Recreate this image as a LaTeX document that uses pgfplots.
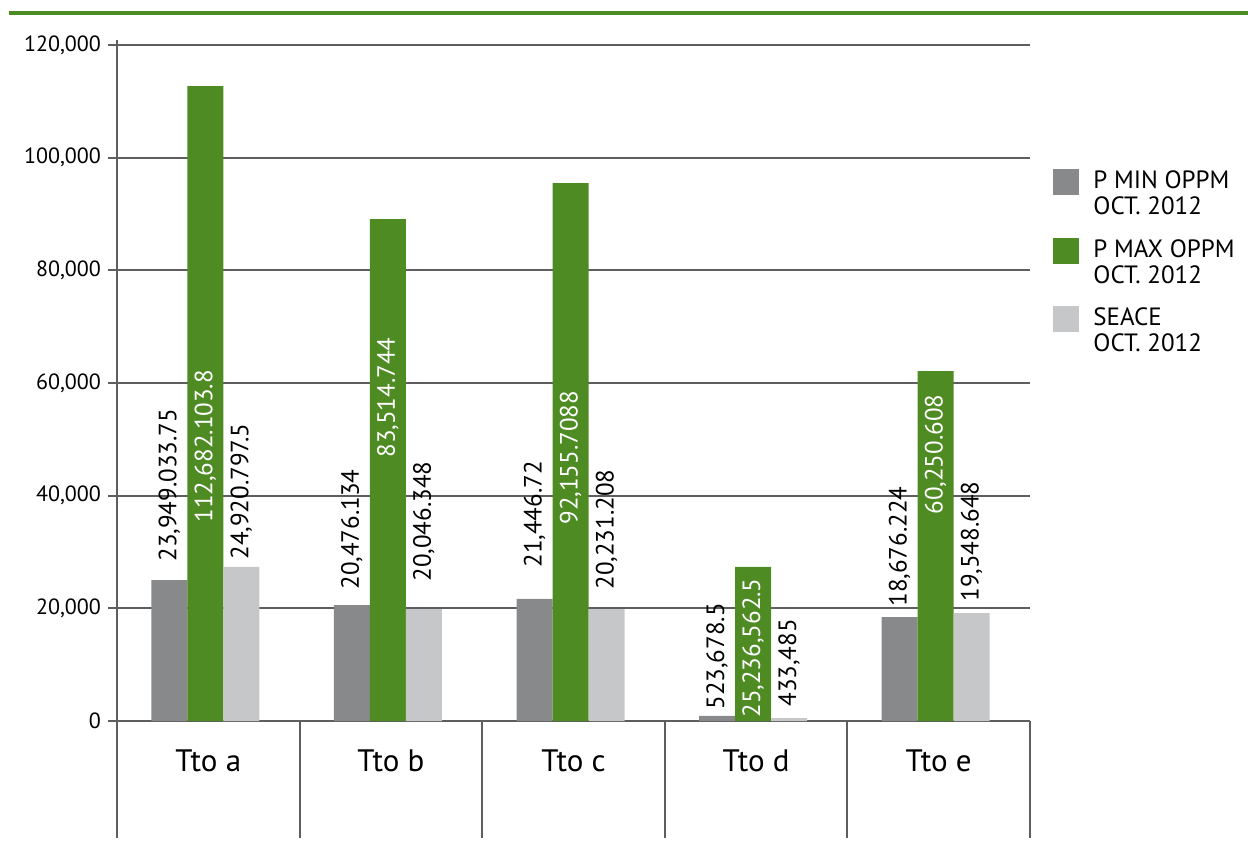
\documentclass[border=0pt]{standalone}
\usepackage{fontspec}
\setmainfont{PT Sans}
\usepackage{pgfplots}
\pgfplotsset{compat=1.18}
\definecolor{cgreen}{HTML}{4E8C23}
\definecolor{cgray}{HTML}{88898B}
\definecolor{clight}{HTML}{C6C7C9}
\definecolor{cline}{HTML}{5E5E5E}
\begin{document}
\begin{tikzpicture}
\path[use as bounding box] (0,0) rectangle (624pt,424pt);
\draw[cgreen, line width=2pt] (4.5pt,417.5pt) -- (624pt,417.5pt);
\begin{axis}[
  at={(58.5pt,63.5pt)}, anchor=south west, scale only axis,
  width=456.5pt, height=338pt,
  xmin=-0.5, xmax=4.5, ymin=0, ymax=120000,
  axis lines=left, axis line style={draw=none,-},
  clip=false,
  ybar=0pt, bar width=18pt,
  ytick={0,20000,40000,60000,80000,100000,120000},
  scaled y ticks=false,
  yticklabel style={/pgf/number format/fixed, /pgf/number format/1000 sep={,}, /pgf/number format/assume math mode=true, font=\fontsize{11}{13}\selectfont, text=black},
  ymajorgrids, grid style={cline, line width=1pt},
  ytick style={cline, line width=1pt},
  tick align=outside, major tick length=4.5pt,
  xtick={0,1,2,3,4}, xticklabels={Tto a,Tto b,Tto c,Tto d,Tto e},
  xtick style={draw=none},
  xticklabel style={font=\fontsize{15.5}{18}\selectfont, anchor=base, yshift=-20.5pt},
  legend cell align=left,
  legend style={at={(axis cs:4.5,120000)}, anchor=north west, xshift=11.5pt, yshift=-61.9pt,
    draw=none, fill=none, inner sep=0pt, row sep=10pt, font=\fontsize{12.5}{13}\selectfont,
    nodes={inner sep=0pt}, /tikz/every odd column/.style={column sep=7pt}},
]
\addplot[fill=cgray, draw=none, bar shift=-19.5pt,
  legend image code/.code={\fill[cgray] (0pt,-0.6pt) rectangle (13pt,12.4pt);}]
  coordinates {(0,25030) (1,20590) (2,21660) (3,900) (4,18460)};
\addlegendentry{\begin{tabular}[b]{@{}l@{}}P MIN OPPM\\OCT. 2012\end{tabular}}
\addplot[fill=cgreen, draw=none, bar shift=-1.5pt,
  legend image code/.code={\fill[cgreen] (0pt,-0.6pt) rectangle (13pt,12.4pt);}]
  coordinates {(0,112720) (1,89110) (2,95500) (3,27340) (4,62130)};
\addlegendentry{\begin{tabular}[b]{@{}l@{}}P MAX OPPM\\OCT. 2012\end{tabular}}
\addplot[fill=clight, draw=none, bar shift=16.5pt,
  legend image code/.code={\fill[clight] (0pt,-0.6pt) rectangle (13pt,12.4pt);}]
  coordinates {(0,27340) (1,19880) (2,19880) (3,500) (4,19170)};
\addlegendentry{\begin{tabular}[b]{@{}l@{}}SEACE\\OCT. 2012\end{tabular}}
% value labels
\addplot[draw=none, fill=none, bar shift=-19.5pt, forget plot,
  nodes near coords, point meta=explicit symbolic,
  every node near coord/.append style={rotate=90, anchor=west, inner sep=0pt, text=black, font=\fontsize{12.5}{14}\selectfont}]
  table[meta=lab] {
x y lab
0 28224 23,949.033.75
1 23254 20,476.134
2 27159 21,446.72
3 1953 523,678.5
4 20237 18,676.224
};
\addplot[draw=none, fill=none, bar shift=-1.5pt, forget plot,
  nodes near coords, point meta=explicit symbolic,
  every node near coord/.append style={rotate=90, anchor=west, inner sep=0pt, text=white, font=\fontsize{12.5}{14}\selectfont}]
  table[meta=lab] {
x y lab
0 35147 112,682.103.8
1 46685 83,514.744
2 34792 92,155.7088
3 533 25,236,562.5
4 36567 60,250.608
};
\addplot[draw=none, fill=none, bar shift=16.5pt, forget plot,
  nodes near coords, point meta=explicit symbolic,
  every node near coord/.append style={rotate=90, anchor=west, inner sep=0pt, text=black, font=\fontsize{12.5}{14}\selectfont}]
  table[meta=lab] {
x y lab
0 28579 24,920.797.5
1 24674 20,046.348
2 23254 20,231.208
3 2485 433,485
4 21124 19,548.648
};
\draw[cline, line width=1pt] ([yshift=2.5pt]axis cs:-0.5,120000) -- (axis cs:-0.5,0) -- ++(0pt,-58.5pt);
\pgfplotsinvokeforeach{0.5,1.5,2.5,3.5,4.5}{
  \draw[cline, line width=1pt] (axis cs:#1,0) -- ++(0pt,-58.5pt);
}
\end{axis}
\end{tikzpicture}
\end{document}
